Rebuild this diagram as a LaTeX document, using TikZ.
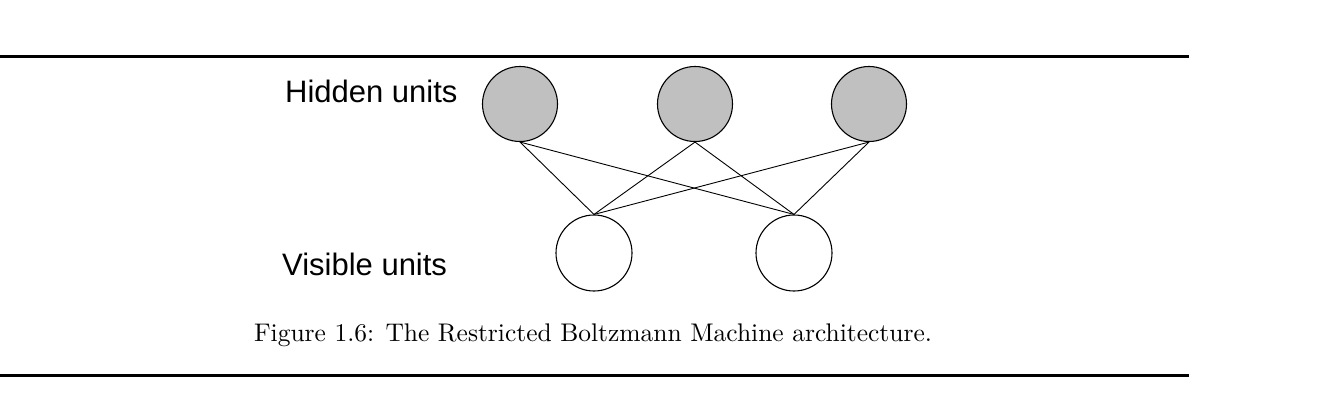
\documentclass[tikz,border=0pt]{standalone}
\usepackage{fontspec}
\newfontfamily\unitfont{Liberation Sans}
\newfontfamily\capfont[Extension=.otf]{lmroman10-regular}
\usepackage{tikz}
\usetikzlibrary{shapes}

\definecolor{unitgray}{RGB}{192,192,192}

\tikzset{
  hiddenunit/.style={circle, draw, line width=1.1pt, fill=unitgray, minimum size=75pt, inner sep=0pt},
  visibleunit/.style={circle, draw, line width=1.1pt, fill=white, minimum size=76pt, inner sep=0pt},
  layerlabel/.style={anchor=base west, inner sep=0pt, font=\unitfont\fontsize{31}{37}\selectfont},
  weight/.style={line width=0.9pt},
  rule/.style={line width=3pt}
}

\begin{document}
\begin{tikzpicture}[x=1pt, y=-1pt]
\useasboundingbox (0, 0) rectangle (1330, 408);

% Rules
\coordinate (ruletopl) at (0, 56);
\coordinate (ruletopr) at (1189, 56);
\coordinate (rulebotl) at (0, 375);
\coordinate (rulebotr) at (1189, 375);
\draw [rule] (ruletopl) -- (ruletopr);
\draw [rule] (rulebotl) -- (rulebotr);

% Hidden units
\node [hiddenunit] (h1) at (520, 104) {};
\node [hiddenunit] (h2) at (695, 104) {};
\node [hiddenunit] (h3) at (869, 104) {};
\node [layerlabel] (hlabel) at (285, 102) {Hidden units};

% Visible units
\node [visibleunit] (v1) at (594, 253) {};
\node [visibleunit] (v2) at (794, 253) {};
\node [layerlabel] (vlabel) at (282, 275) {Visible units};

% Weights
\draw [weight] (h1.south) -- (v1.north);
\draw [weight] (h1.south) -- (v2.north);
\draw [weight] (h2.south) -- (v1.north);
\draw [weight] (h2.south) -- (v2.north);
\draw [weight] (h3.south) -- (v1.north);
\draw [weight] (h3.south) -- (v2.north);

% Caption
\node [anchor=base, inner sep=0pt, font=\capfont\fontsize{25.5}{31}\selectfont] (caption) at (593, 341)
  {Figure 1.6: The Restricted Boltzmann Machine architecture.};

\end{tikzpicture}
\end{document}
